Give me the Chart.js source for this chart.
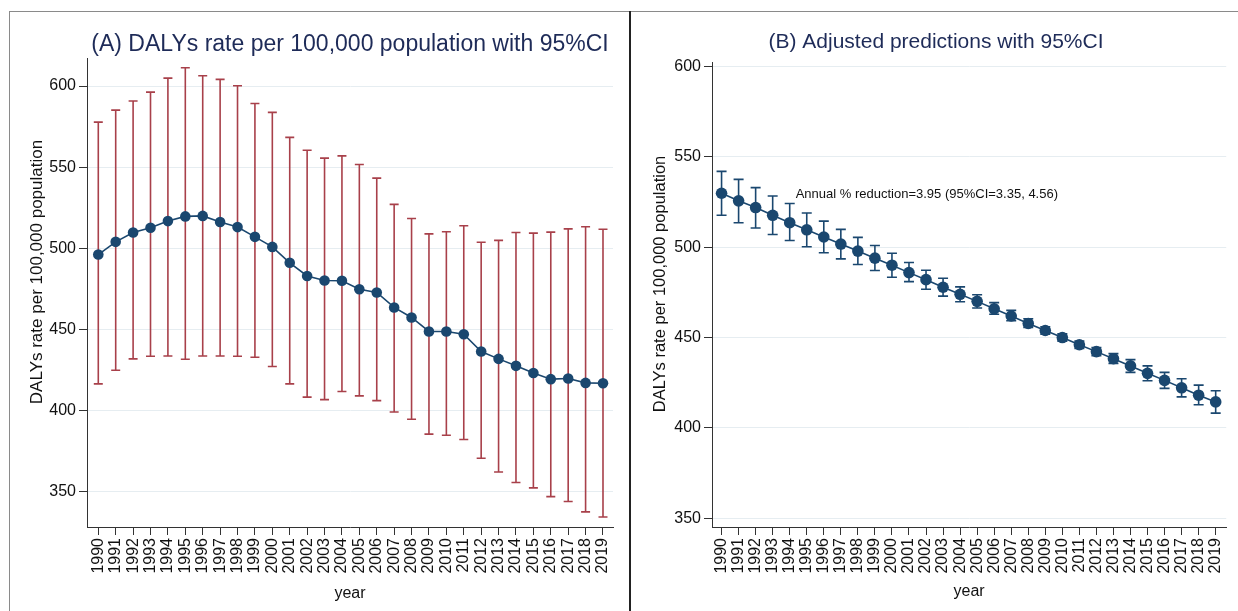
<!DOCTYPE html>
<html>
<head>
<meta charset="utf-8">
<script src="https://cdn.jsdelivr.net/npm/chart.js@4.4.1/dist/chart.umd.min.js"></script>
<style>
  html, body { margin:0; padding:0; background:#fff; }
  #wrap { position:relative; width:1238px; height:611px; overflow:hidden; background:#fff; }
  #frameTop { position:absolute; left:9px; top:11px; width:1229px; height:0; border-top:1px solid #8a8a8a; }
  #frameLeft { position:absolute; left:9px; top:11px; width:0; height:600px; border-left:1px solid #8a8a8a; }
  #divider { position:absolute; left:629px; top:11px; width:2px; height:600px; background:#222; }
  canvas { position:absolute; top:0; }
  #cA { left:0; }
  #cB { left:632px; }
</style>
</head>
<body>
<div id="wrap">
  <canvas id="cA" width="629" height="611"></canvas>
  <canvas id="cB" width="606" height="611"></canvas>
  <div id="frameTop"></div>
  <div id="frameLeft"></div>
  <div id="divider"></div>
</div>
<script>
// ---------- data ----------
const years = [1990,1991,1992,1993,1994,1995,1996,1997,1998,1999,2000,2001,2002,2003,2004,
               2005,2006,2007,2008,2009,2010,2011,2012,2013,2014,2015,2016,2017,2018,2019];

// Panel A: observed DALYs rate per 100,000 with 95% CI
const dalysRate = [496.2,504.0,509.8,512.7,516.8,519.7,520.0,516.2,513.1,507.1,500.9,491.1,483.0,480.2,480.0,
                   474.8,472.8,463.6,457.4,448.8,448.8,447.1,436.4,431.9,427.6,423.2,419.4,419.8,417.1,416.9];
const dalysLow  = [416.5,424.9,431.9,433.5,433.7,431.7,433.7,433.7,433.5,432.9,427.2,416.5,408.3,406.8,411.8,
                   409.1,406.2,399.2,394.7,385.5,384.8,382.2,370.7,362.2,355.7,352.4,347.0,344.0,337.6,334.5];
const dalysHigh = [577.8,585.2,590.8,596.3,604.9,611.3,606.4,604.1,600.2,589.3,583.8,568.4,560.5,555.6,557.0,
                   551.7,543.3,527.1,518.4,508.9,510.2,513.9,503.8,504.9,509.8,509.4,510.0,512.0,513.3,511.8];

// Panel B: adjusted predictions with 95% CI
const predRate = [529.8,525.6,521.9,517.6,513.5,509.6,505.6,501.7,497.8,493.9,490.0,485.9,482.0,477.8,473.9,
                  470.0,465.9,461.9,457.8,453.9,450.0,446.0,442.2,438.3,434.3,430.2,426.3,422.2,418.1,414.4];
const predLow  = [517.6,513.5,510.6,507.0,503.7,500.2,496.9,493.5,490.4,487.1,483.3,480.9,476.7,472.9,469.8,
                  466.3,462.9,459.3,455.6,451.9,448.0,444.0,440.0,435.7,430.7,426.1,421.9,417.2,412.8,408.2];
const predHigh = [541.9,537.5,532.9,528.3,524.1,518.9,514.4,509.8,505.4,500.9,496.6,491.5,487.2,482.8,478.0,
                  473.7,469.3,465.0,460.4,456.0,452.0,448.0,444.4,441.1,437.8,434.3,430.7,427.2,423.7,420.6];

const yTickValues = [350,400,450,500,550,600];

const titleA = '(A) DALYs rate per 100,000 population with 95%CI';
const titleB = '(B) Adjusted predictions with 95%CI';
const yTitle = 'DALYs rate per 100,000 population';
const xTitle = 'year';
const annotText = 'Annual % reduction=3.95 (95%CI=3.35, 4.56)';

// ---------- styles ----------
const FONT = '"Liberation Sans", Arial, Helvetica, sans-serif';
const NAVY = '#1a476f';
const RED = '#a8404a';
const GRID = '#e6edf1';
const AXIS = '#333333';
const TITLE_COLOR = '#1e2b58';

// ---------- plugins ----------
const errorBars = {
  id: 'errorBars',
  beforeDatasetsDraw(chart, args, o) {
    if (!o || !o.low) return;
    const {ctx, scales:{x, y}} = chart;
    ctx.save();
    ctx.strokeStyle = o.color;
    ctx.lineWidth = o.width;
    for (let i = 0; i < o.xs.length; i++) {
      const px = x.getPixelForValue(o.xs[i]);
      const pl = y.getPixelForValue(o.low[i]);
      const ph = y.getPixelForValue(o.high[i]);
      ctx.beginPath();
      ctx.moveTo(px, pl); ctx.lineTo(px, ph);
      ctx.moveTo(px - o.cap, pl); ctx.lineTo(px + o.cap, pl);
      ctx.moveTo(px - o.cap, ph); ctx.lineTo(px + o.cap, ph);
      ctx.stroke();
    }
    ctx.restore();
  }
};

const panelText = {
  id: 'panelText',
  afterDraw(chart, args, o) {
    if (!o || !o.items) return;
    const ctx = chart.ctx;
    o.items.forEach(t => {
      ctx.save();
      ctx.font = t.font;
      ctx.fillStyle = t.color;
      ctx.textAlign = t.align || 'center';
      ctx.textBaseline = 'middle';
      let px = t.x, py = t.y;
      if (t.data) {
        px = chart.scales.x.getPixelForValue(t.x);
        py = chart.scales.y.getPixelForValue(t.y);
      }
      ctx.translate(px, py);
      if (t.rotate) ctx.rotate(t.rotate);
      ctx.fillText(t.text, 0, 0);
      ctx.restore();
    });
  }
};

function makeChart(id, cfg) {
  const pts = years.map((yr, i) => ({x: yr, y: cfg.values[i]}));
  return new Chart(document.getElementById(id), {
    type: 'line',
    data: { datasets: [{
      data: pts,
      borderColor: NAVY,
      borderWidth: 1.6,
      pointRadius: cfg.pointRadius,
      pointBackgroundColor: NAVY,
      pointBorderColor: NAVY,
      pointBorderWidth: 0,
      tension: 0,
      clip: false
    }]},
    options: {
      responsive: false,
      animation: false,
      events: [],
      layout: { padding: cfg.padding },
      plugins: {
        legend: { display: false },
        tooltip: { enabled: false },
        errorBars: cfg.errorBars,
        panelText: { items: cfg.texts }
      },
      scales: {
        x: {
          type: 'linear',
          min: cfg.xMin, max: cfg.xMax,
          afterBuildTicks(s) { s.ticks = years.map(v => ({value: v})); },
          afterFit(s) { s.height = cfg.xAxisHeight; },
          ticks: {
            autoSkip: false, minRotation: 90, maxRotation: 90, padding: 3,
            color: '#111', font: { family: FONT, size: 16 },
            callback: v => String(v)
          },
          grid: { drawOnChartArea: false, drawTicks: true, tickLength: 8, color: AXIS, lineWidth: 1 },
          border: { display: true, color: AXIS, width: 1 },
          title: { display: true, text: xTitle, color: '#111',
                   font: { family: FONT, size: 16 }, padding: { top: 0, bottom: cfg.xTitlePad } }
        },
        y: {
          type: 'linear',
          min: cfg.yMin, max: cfg.yMax,
          afterBuildTicks(s) { s.ticks = yTickValues.map(v => ({value: v})); },
          afterFit(s) { s.width = cfg.yAxisWidth; },
          ticks: { color: '#111', font: { family: FONT, size: 16 }, padding: 3 },
          grid: { color: GRID, tickColor: AXIS, tickLength: 8, lineWidth: 1 },
          border: { display: true, color: AXIS, width: 1 }
        }
      }
    },
    plugins: [errorBars, panelText]
  });
}

// Panel A
makeChart('cA', {
  values: dalysRate,
  pointRadius: 5.3,
  padding: { top: 58, right: 16, left: 0, bottom: 0 },
  xMin: 1989.351, xMax: 2019.575,
  yMin: 328.3, yMax: 617.3,
  yAxisWidth: 87, xAxisHeight: 84, xTitlePad: 8,
  errorBars: { xs: years, low: dalysLow, high: dalysHigh, color: RED, width: 1.6, cap: 4.5 },
  texts: [
    { text: titleA, x: 350, y: 45, font: '23px ' + FONT, color: TITLE_COLOR },
    { text: yTitle, x: 37, y: 272, rotate: -Math.PI / 2, font: '17px ' + FONT, color: '#111' }
  ]
});

// Panel B
makeChart('cB', {
  values: predRate,
  pointRadius: 5.8,
  padding: { top: 62, right: 4, left: 0, bottom: 0 },
  xMin: 1989.439, xMax: 2019.619,
  yMin: 345.2, yMax: 602.4,
  yAxisWidth: 80, xAxisHeight: 84, xTitlePad: 10,
  errorBars: { xs: years, low: predLow, high: predHigh, color: NAVY, width: 1.6, cap: 5 },
  texts: [
    { text: titleB, x: 304, y: 42, font: '21px ' + FONT, color: TITLE_COLOR },
    { text: yTitle, x: 28, y: 284, rotate: -Math.PI / 2, font: '16.5px ' + FONT, color: '#111' },
    { text: annotText, x: 1994.35, y: 529.2, data: true, align: 'left', font: '13px ' + FONT, color: '#111' }
  ]
});
</script>
</body>
</html>
